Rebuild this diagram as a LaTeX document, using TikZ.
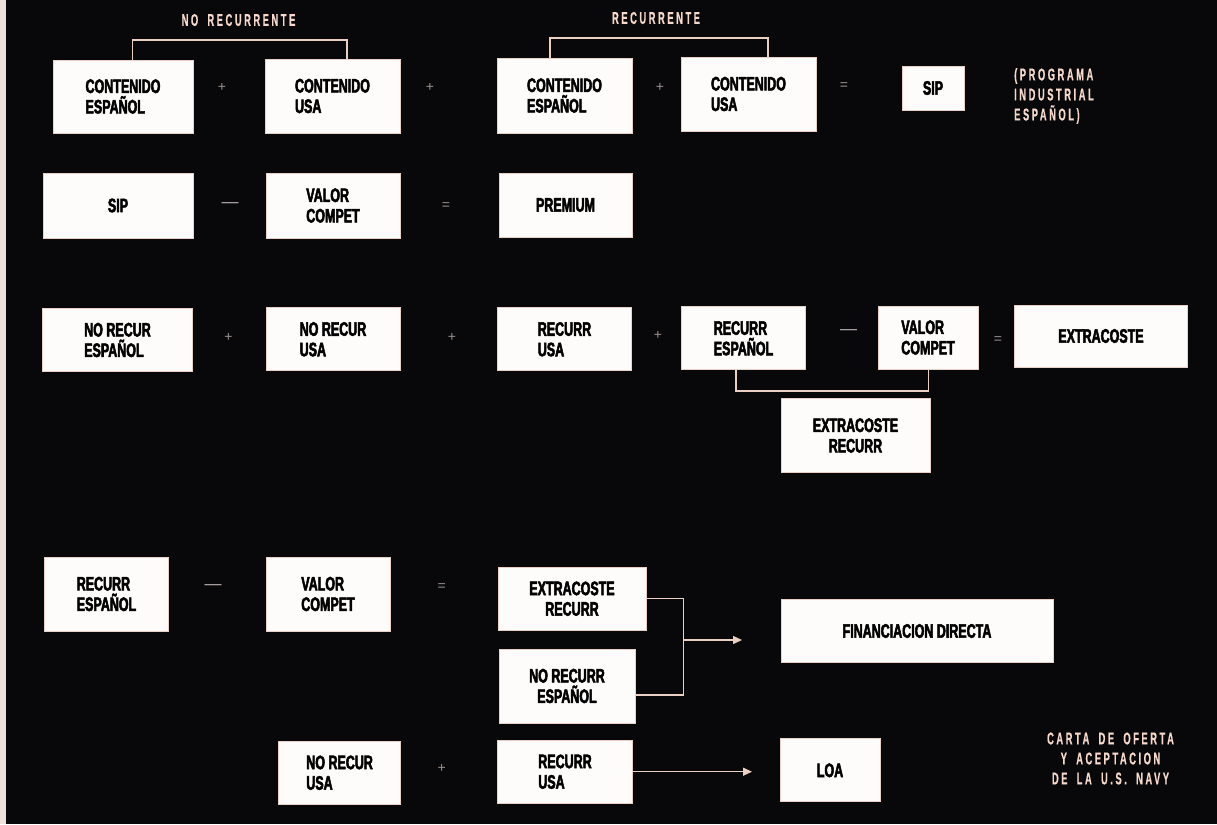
\documentclass[tikz,border=0pt]{standalone}
\usepackage{fontspec}
\usetikzlibrary{arrows.meta}
\newfontfamily\boxfont{Liberation Sans}[FakeStretch=0.64, BoldFeatures={FakeBold=2.6}]
\newfontfamily\lblfont{Liberation Sans}[FakeStretch=0.55, LetterSpace=15, WordSpace=1.8, BoldFeatures={FakeBold=0.4}]
\newfontfamily\opfont{Liberation Sans}
\definecolor{bg}{HTML}{08080A}
\definecolor{strip}{HTML}{EFE0DC}
\definecolor{boxfill}{HTML}{FEFCFA}
\definecolor{boxedge}{HTML}{E9CFC6}
\definecolor{lblcol}{HTML}{F6D9CB}
\definecolor{conncol}{HTML}{EBCFC3}
\definecolor{opgray}{HTML}{9C918E}
\begin{document}
\begin{tikzpicture}[x=1pt,y=-1pt,
  box/.style={draw=boxedge, line width=0.8pt, fill=boxfill, text=black, inner sep=0pt, align=left,
    font=\boxfont\bfseries\fontsize{19.5}{20.5}\selectfont},
  boxc/.style={box, align=center},
  sz/.style n args={2}{minimum width=#1pt, minimum height=#2pt},
  op/.style={text=opgray, inner sep=0pt, font=\opfont\fontsize{14}{14}\selectfont},
  opdash/.style={text=opgray!70!white, inner sep=0pt, font=\opfont\fontsize{17}{17}\selectfont},
  lbl/.style={text=lblcol, inner sep=0pt, font=\lblfont\bfseries\fontsize{17}{20}\selectfont},
  conn/.style={draw=conncol, line width=1.3pt},
  arr/.style={-{Triangle[length=9pt,width=8pt]}}]
\useasboundingbox (0,0) rectangle (1217,824);
\fill[bg] (0,0) rectangle (1217,824);
\fill[strip] (0,0) rectangle (6,824);

% Row 1
\node[lbl] (lnr) at (238.5,20) {NO RECURRENTE};
\node[lbl] (lr) at (656,18) {RECURRENTE};
\node[box, sz={140}{73}] (ce1) at (123,96.5) {CONTENIDO\\ESPAÑOL};
\node[op] (o1) at (222,87) {+};
\node[box, sz={135}{74}] (cu1) at (332.5,96) {CONTENIDO\\USA};
\node[op] (o2) at (430,87) {+};
\node[box, sz={135}{75}] (ce2) at (564.5,95.5) {CONTENIDO\\ESPAÑOL};
\node[op] (o3) at (660,87) {+};
\node[box, sz={135}{74}] (cu2) at (748.5,94) {CONTENIDO\\USA};
\node[op] (o4) at (844,86) {=};
\node[box, sz={62}{44}] (sip1) at (933,88) {SIP};
\node[lbl, anchor=west, align=left] (prog) at (1014,96) {(PROGRAMA\\INDUSTRIAL\\ESPAÑOL)};

\coordinate (nrL) at (132.5,40);
\coordinate (nrR) at (347,40);
\draw[conn] (ce1.north -| nrL) -- (nrL) -- (nrR) -- (cu1.north -| nrR);
\coordinate (rL) at (550,38);
\coordinate (rR) at (768,38);
\draw[conn] (ce2.north -| rL) -- (rL) -- (rR) -- (cu2.north -| rR);

% Row 2
\node[box, sz={150}{65}] (sip2) at (118,205.5) {SIP};
\node[opdash] (o5) at (230,205) {—};
\node[box, sz={134}{65}] (vc1) at (333,205.5) {VALOR\\COMPET};
\node[op] (o6) at (446,206) {=};
\node[box, sz={133}{64}] (prem) at (565.5,205) {PREMIUM};

% Row 3
\node[box, sz={150}{63}] (nre) at (117.5,340) {NO RECUR\\ESPAÑOL};
\node[op] (o7) at (228.5,337) {+};
\node[box, sz={134}{63}] (nru) at (333,339.3) {NO RECUR\\USA};
\node[op] (o8) at (452,337) {+};
\node[box, sz={134}{63}] (ru) at (564.5,339.3) {RECURR\\USA};
\node[op] (o9) at (658,335) {+};
\node[box, sz={124}{63}] (re) at (743.5,338.3) {RECURR\\ESPAÑOL};
\node[opdash] (o10) at (848.5,331.7) {—};
\node[box, sz={100}{63}] (vc2) at (928,337.5) {VALOR\\COMPET};
\node[op] (o11) at (998,340) {=};
\node[box, sz={173}{62}] (ec) at (1101,336) {EXTRACOSTE};
\node[boxc, sz={149}{74}] (ecr) at (855.5,435.5) {EXTRACOSTE\\RECURR};

\coordinate (bL) at (736,391);
\coordinate (bR) at (928.5,391);
\draw[conn] (re.south -| bL) -- (bL) -- (bR) -- (vc2.south -| bR);

% Row 4
\node[box, sz={124}{74}] (re2) at (106.5,594) {RECURR\\ESPAÑOL};
\node[opdash] (o12) at (213,586.7) {—};
\node[box, sz={124}{74}] (vc3) at (328,594) {VALOR\\COMPET};
\node[op] (o13) at (441.7,586.7) {=};
\node[boxc, sz={148}{63}] (ecr2) at (572,598.7) {EXTRACOSTE\\RECURR};
\node[boxc, sz={136}{74}] (nrre) at (567,686) {NO RECURR\\ESPAÑOL};
\node[box, sz={272}{63}] (fd) at (917,631) {FINANCIACION DIRECTA};

\coordinate (jB) at (683.4,695);
\coordinate (jM) at (683.4,640);
\coordinate (tipF) at (742,640);
\draw[conn] (ecr2.east) -| (jB) -- (nrre.east |- jB);
\draw[conn, arr] (jM) -- (tipF);

% Row 5
\node[box, sz={122}{63}] (nru2) at (339.6,772.7) {NO RECUR\\USA};
\node[op] (o14) at (441.7,768) {+};
\node[box, sz={135}{63}] (ru2) at (565,771.7) {RECURR\\USA};
\node[box, sz={100}{63}] (loa) at (830,770.3) {LOA};
\coordinate (tipL) at (752,771.7);
\draw[conn, arr] (ru2.east) -- (tipL);

\node[lbl, align=center] (carta) at (1110.5,758.5) {CARTA DE OFERTA\\Y ACEPTACION\\DE LA U.S. NAVY};
\end{tikzpicture}
\end{document}
